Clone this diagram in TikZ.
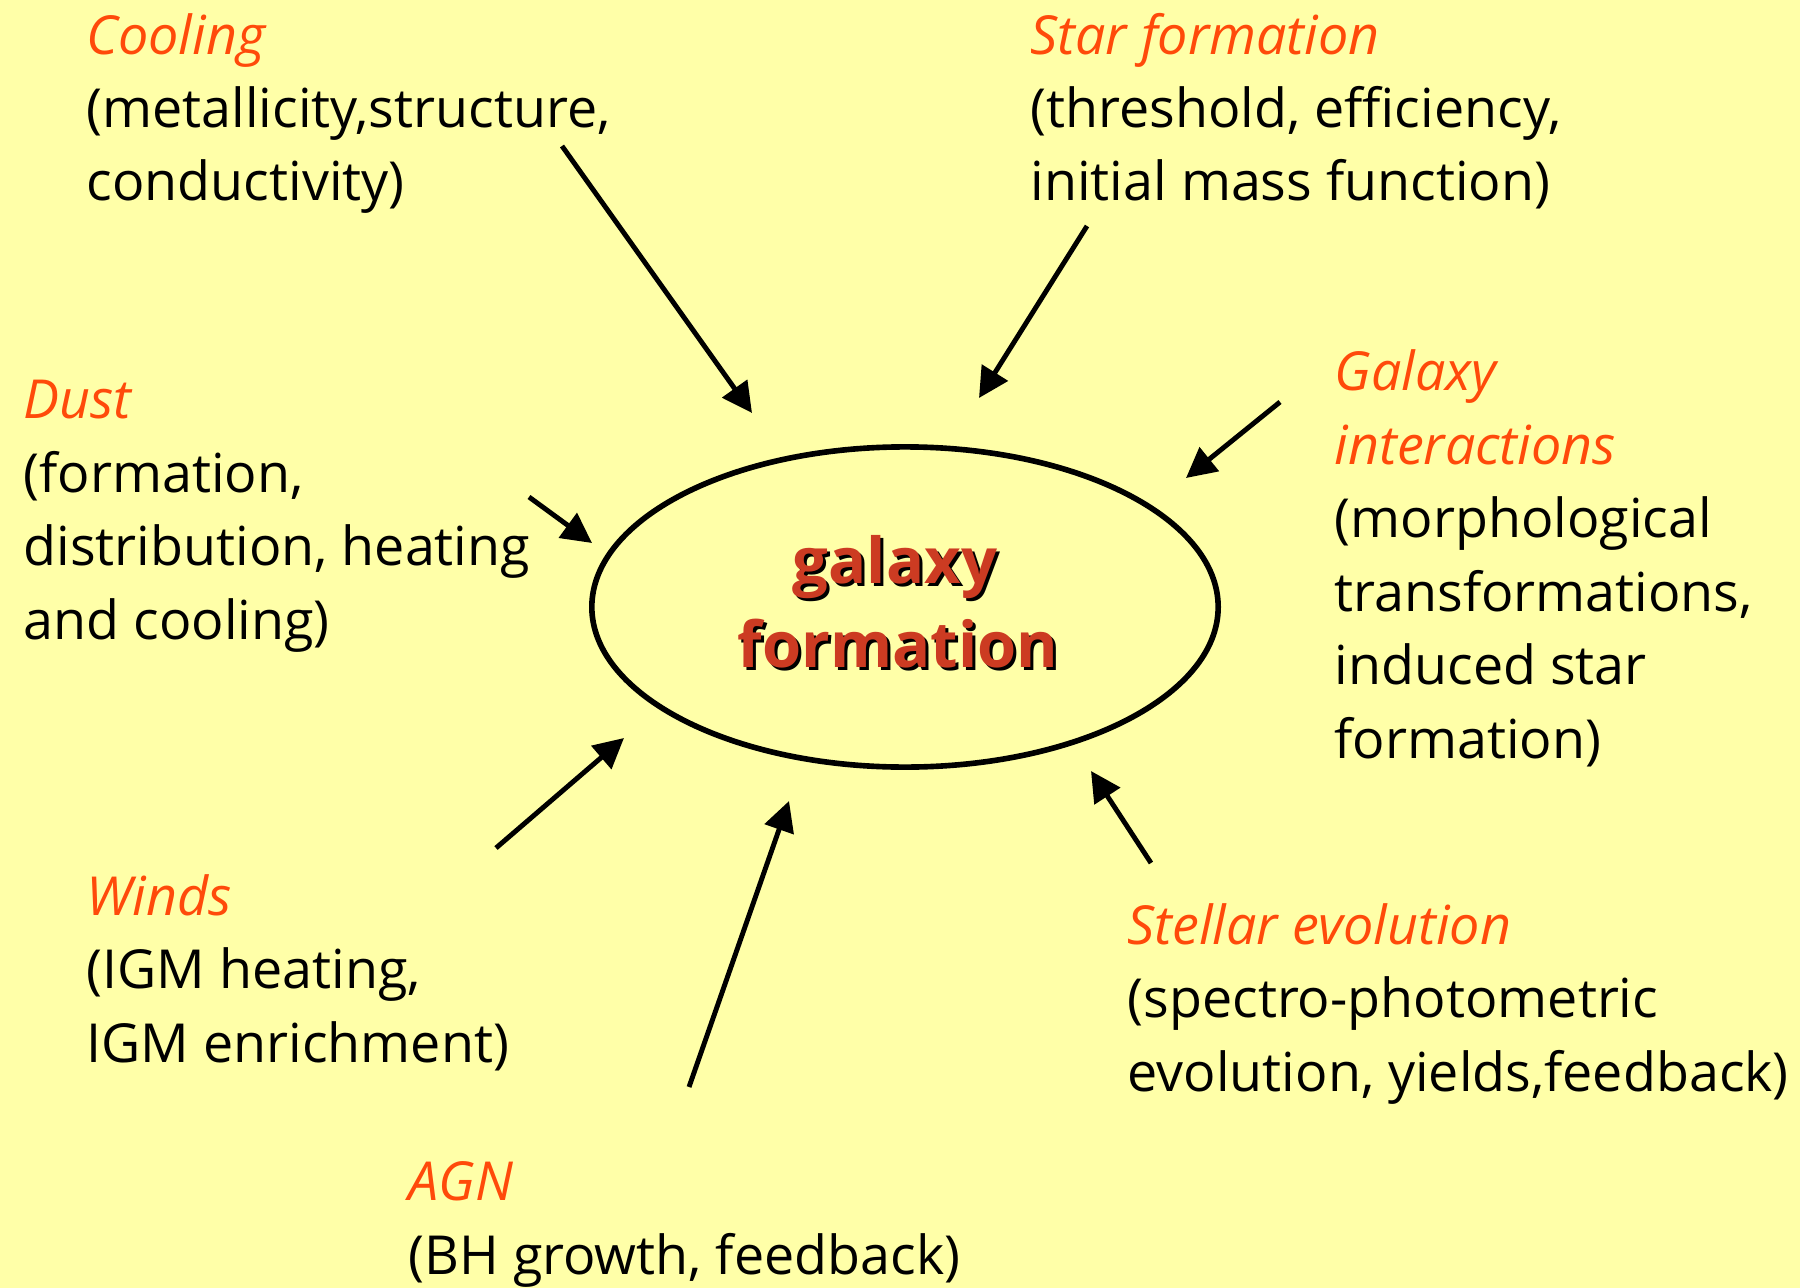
\documentclass[tikz,border=0pt]{standalone}
\usepackage{fontspec}
\setmainfont{Open Sans}
\usetikzlibrary{arrows.meta,shapes.geometric}
\definecolor{bgyellow}{HTML}{FFFFA8}
\definecolor{headorange}{HTML}{FF4A0A}
\definecolor{corered}{HTML}{CC3B22}
\tikzset{
  topic/.style={anchor=base west, align=left, inner sep=0pt, font=\fontsize{15.3}{20.9}\selectfont},
  push/.style={-{Triangle[length=0.3cm,width=0.3cm]}, line width=1.4pt},
  core/.style={anchor=base, inner sep=0pt, font=\fontsize{18}{24}\selectfont\bfseries},
}
\newcommand{\hd}[1]{\textcolor{headorange}{\itshape #1}}

\begin{document}
\begin{tikzpicture}[x=0.01cm,y=-0.01cm]
        \useasboundingbox (0,0) rectangle (1800,1288);
        \fill[bgyellow] (0,0) rectangle (1800,1288);
        % the ellipse in the middle
        \node[draw, ellipse, line width=1.6pt, minimum width=6.26cm, minimum height=3.2cm] (galaxy) at (905,607) {};
        \node[core, text=black] (gal-sh) at (898,586) {galaxy};
        \node[core, text=corered] (gal) at (895,583) {galaxy};
        \node[core, text=black] (form-sh) at (901,670) {formation};
        \node[core, text=corered] (form) at (898,667) {formation};
        % the processes round it (placed at the baseline of their last line)
        \node[topic] (cooling) at (86,201) {\hd{Cooling}\\(metallicity,structure,\\conductivity)};
        \node[topic] (starform) at (1030,201) {\hd{Star formation}\\(threshold, efficiency,\\initial mass function)};
        \node[topic] (dust) at (23,639) {\hd{Dust}\\(formation,\\distribution, heating\\and cooling)};
        \node[topic] (interact) at (1334,758) {\hd{Galaxy}\\\hd{interactions}\\(morphological\\transformations,\\induced star\\formation)};
        \node[topic] (winds) at (86,1062) {\hd{Winds}\\(IGM heating,\\IGM enrichment)};
        \node[topic] (stellar) at (1127,1091) {\hd{Stellar evolution}\\(spectro-photometric\\evolution, yields,feedback)};
        \node[topic] (agn) at (408,1274) {\hd{AGN}\\(BH growth, feedback)};
        % arrows
        \coordinate (cool-tail) at (562,146);
        \coordinate (cool-tip) at (752,413);
        \coordinate (star-tail) at (1087,226);
        \coordinate (star-tip) at (979,398);
        \coordinate (inter-tail) at (1280,402);
        \coordinate (inter-tip) at (1186,478);
        \coordinate (dust-tail) at (529,497);
        \coordinate (dust-tip) at (592,543);
        \coordinate (wind-tail) at (496,848);
        \coordinate (wind-tip) at (624,738);
        \coordinate (agn-tail) at (689,1087);
        \coordinate (agn-tip) at (789,801);
        \coordinate (stel-tail) at (1151,863);
        \coordinate (stel-tip) at (1091,771);
        \draw[push] (cool-tail) -- (cool-tip);
        \draw[push] (star-tail) -- (star-tip);
        \draw[push] (inter-tail) -- (inter-tip);
        \draw[push] (dust-tail) -- (dust-tip);
        \draw[push] (wind-tail) -- (wind-tip);
        \draw[push] (agn-tail) -- (agn-tip);
        \draw[push] (stel-tail) -- (stel-tip);
\end{tikzpicture}
\end{document}
